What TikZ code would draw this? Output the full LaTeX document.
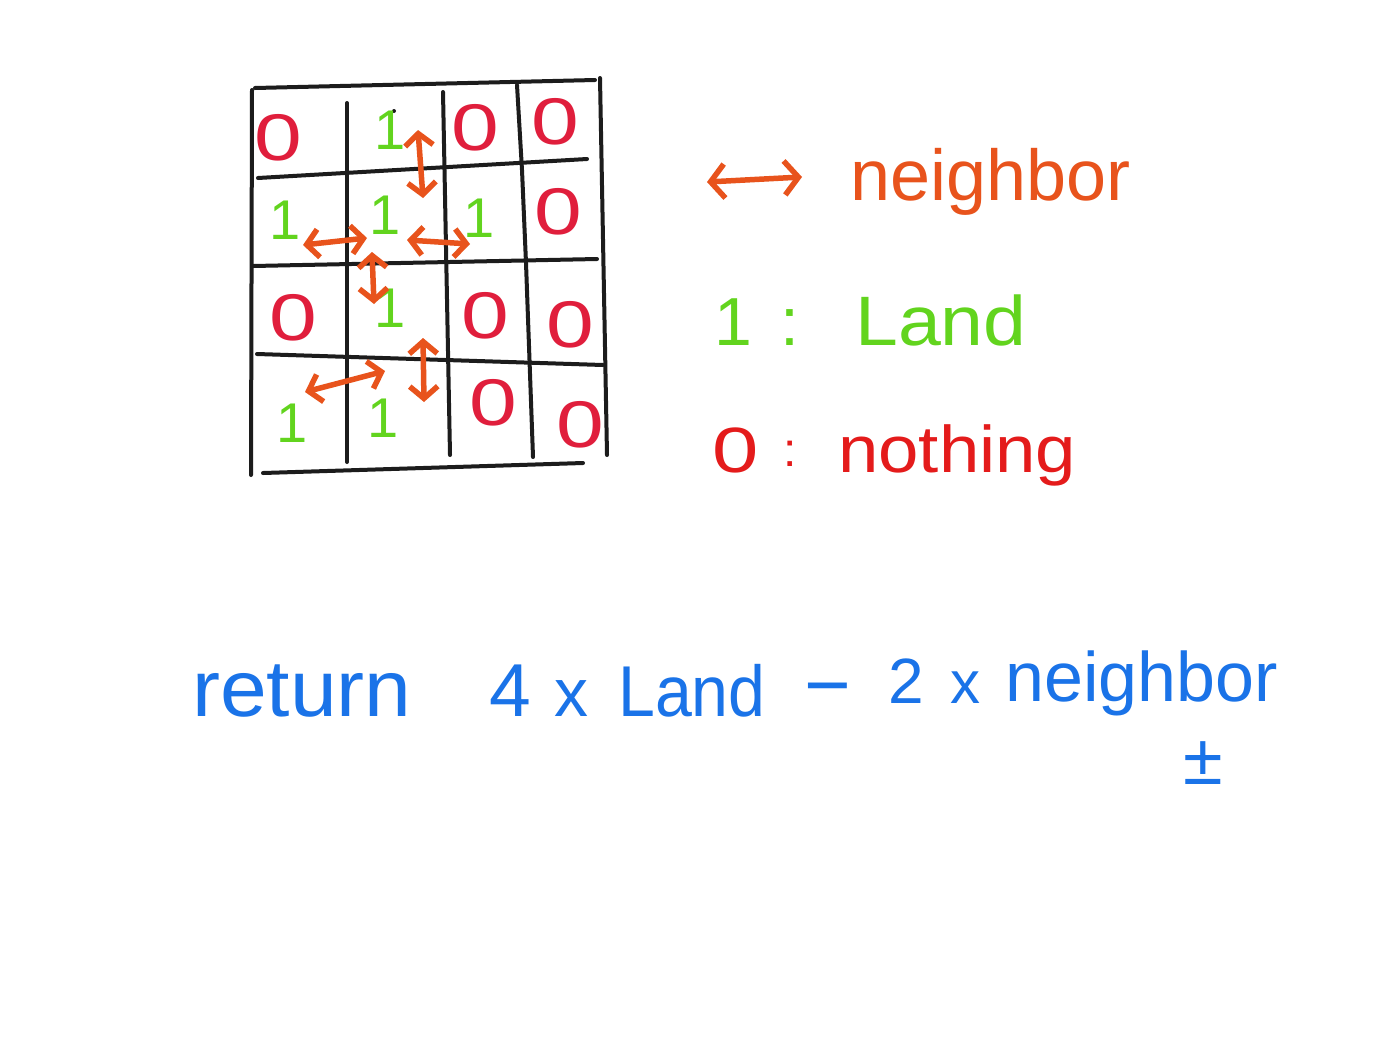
\documentclass[tikz,border=0pt]{standalone}
\usepackage{fontspec}
\setmainfont{Liberation Sans}
\usetikzlibrary{arrows.meta}
\definecolor{inkblack}{HTML}{1C1C1C}
\definecolor{nborange}{HTML}{E8531C}
\definecolor{landgreen}{HTML}{62D41E}
\definecolor{zerored}{HTML}{E01E3C}
\definecolor{nothred}{HTML}{E41B1B}
\definecolor{retblue}{HTML}{1A73E8}
\begin{document}
\begin{tikzpicture}[x=1pt,y=-1pt,
  gridline/.style={draw=inkblack, line width=4pt, line cap=round},
  nbarrow/.style={draw=nborange, line width=5.5pt, line cap=round, line join=round,
    arrows={Straight Barb[length=12pt,width=28pt]-Straight Barb[length=12pt,width=28pt]}},
  zero/.style={text=zerored, font=\fontsize{66}{66}\selectfont, inner sep=0pt, xscale=1.3},
  one/.style={text=landgreen, font=\fontsize{56}{56}\selectfont, inner sep=0pt},
  txt/.style={inner sep=0pt, anchor=base west},
  blue/.style={text=retblue, inner sep=0pt, anchor=base}
]
\useasboundingbox[fill=white] (0,0) rectangle (1400,1050);

% grid lines
\draw[gridline] (255,88) -- (595,80);
\draw[gridline] (258,178) -- (587,159);
\draw[gridline] (253,266) -- (597,259);
\draw[gridline] (257,354) -- (603,365);
\draw[gridline] (263,473) -- (583,463);
\draw[gridline] (252,90) -- (251,475);
\draw[gridline] (347,103) -- (347,462);
\draw[gridline] (443,92) -- (450,455);
\draw[gridline] (517,85) -- (522,170) -- (526,263) -- (533,457);
\draw[gridline] (600,78) -- (607,455);
\fill[inkblack] (394,111) circle (2);

% cell values
\node[zero] (c11) at (278,138) {0};
\node[one]  (c12) at (390,130) {1};
\node[zero] (c13) at (475,128) {0};
\node[zero] (c14) at (555,122) {0};
\node[one]  (c21) at (285,220) {1};
\node[one]  (c22) at (385,215) {1};
\node[one]  (c23) at (479,218) {1};
\node[zero] (c24) at (558,212) {0};
\node[zero] (c31) at (293,318) {0};
\node[one]  (c32) at (390,308) {1};
\node[zero] (c33) at (485,316) {0};
\node[zero] (c34) at (570,325) {0};
\node[one]  (c41) at (292,423) {1};
\node[one]  (c42) at (383,418) {1};
\node[zero] (c43) at (493,403) {0};
\node[zero] (c44) at (580,425) {0};

% neighbor arrows
\coordinate (a1s) at (418,130); \coordinate (a1e) at (423,198);
\coordinate (a2s) at (303,245); \coordinate (a2e) at (367,238);
\coordinate (a3s) at (407,240); \coordinate (a3e) at (470,244);
\coordinate (a4s) at (372,252); \coordinate (a4e) at (374,304);
\coordinate (a5s) at (305,392); \coordinate (a5e) at (385,371);
\coordinate (a6s) at (423,338); \coordinate (a6e) at (424,402);
\draw[nbarrow] (a1s) -- (a1e);
\draw[nbarrow] (a2s) -- (a2e);
\draw[nbarrow] (a3s) -- (a3e);
\draw[nbarrow] (a4s) -- (a4e);
\draw[nbarrow] (a5s) -- (a5e);
\draw[nbarrow] (a6s) -- (a6e);

% legend
\coordinate (lgs) at (707,182); \coordinate (lge) at (802,177);
\draw[nbarrow, arrows={Straight Barb[length=14pt,width=34pt]-Straight Barb[length=14pt,width=34pt]}] (lgs) -- (lge);
\node[txt, text=nborange, font=\fontsize{72}{72}\selectfont] (lgn) at (850,200) {neighbor};

\node[inner sep=0pt, anchor=base, text=landgreen, font=\fontsize{68}{68}\selectfont] (lg1) at (733,345) {1};
\node[inner sep=0pt, anchor=base, text=landgreen, font=\fontsize{68}{68}\selectfont] (lgc1) at (790,345) {:};
\node[txt, text=landgreen, font=\fontsize{70}{70}\selectfont, xscale=1.1] (lgland) at (855,345) {Land};

\node[inner sep=0pt, anchor=base, text=nothred, font=\fontsize{64}{64}\selectfont, xscale=1.3] (lg0) at (736,472) {0};
\node[inner sep=0pt, anchor=base, text=nothred, font=\fontsize{48}{48}\selectfont] (lgc0) at (790,466) {:};
\node[txt, text=nothred, font=\fontsize{66}{66}\selectfont, xscale=1.1] (lgnoth) at (838,472) {nothing};

% formula
\node[txt, text=retblue, font=\fontsize{80}{80}\selectfont, xscale=1.05] (fret) at (192,716) {return};
\node[blue, font=\fontsize{75}{75}\selectfont] (f4) at (510,716) {4};
\node[blue, font=\fontsize{68}{68}\selectfont] (fx1) at (571,716) {x};
\node[txt, text=retblue, font=\fontsize{72}{72}\selectfont, xscale=0.92] (fland) at (618,716) {Land};
\node[blue, font=\fontsize{80}{80}\selectfont] (fminus) at (828,712) {−};
\node[blue, font=\fontsize{64}{64}\selectfont] (f2) at (906,703) {2};
\node[blue, font=\fontsize{60}{60}\selectfont] (fx2) at (965,703) {x};
\node[txt, text=retblue, font=\fontsize{70}{70}\selectfont] (fnb) at (1005,701) {neighbor};
\node[inner sep=0pt, text=retblue, font=\fontsize{72}{72}\selectfont] (fpm) at (1203,763) {±};
\end{tikzpicture}
\end{document}
